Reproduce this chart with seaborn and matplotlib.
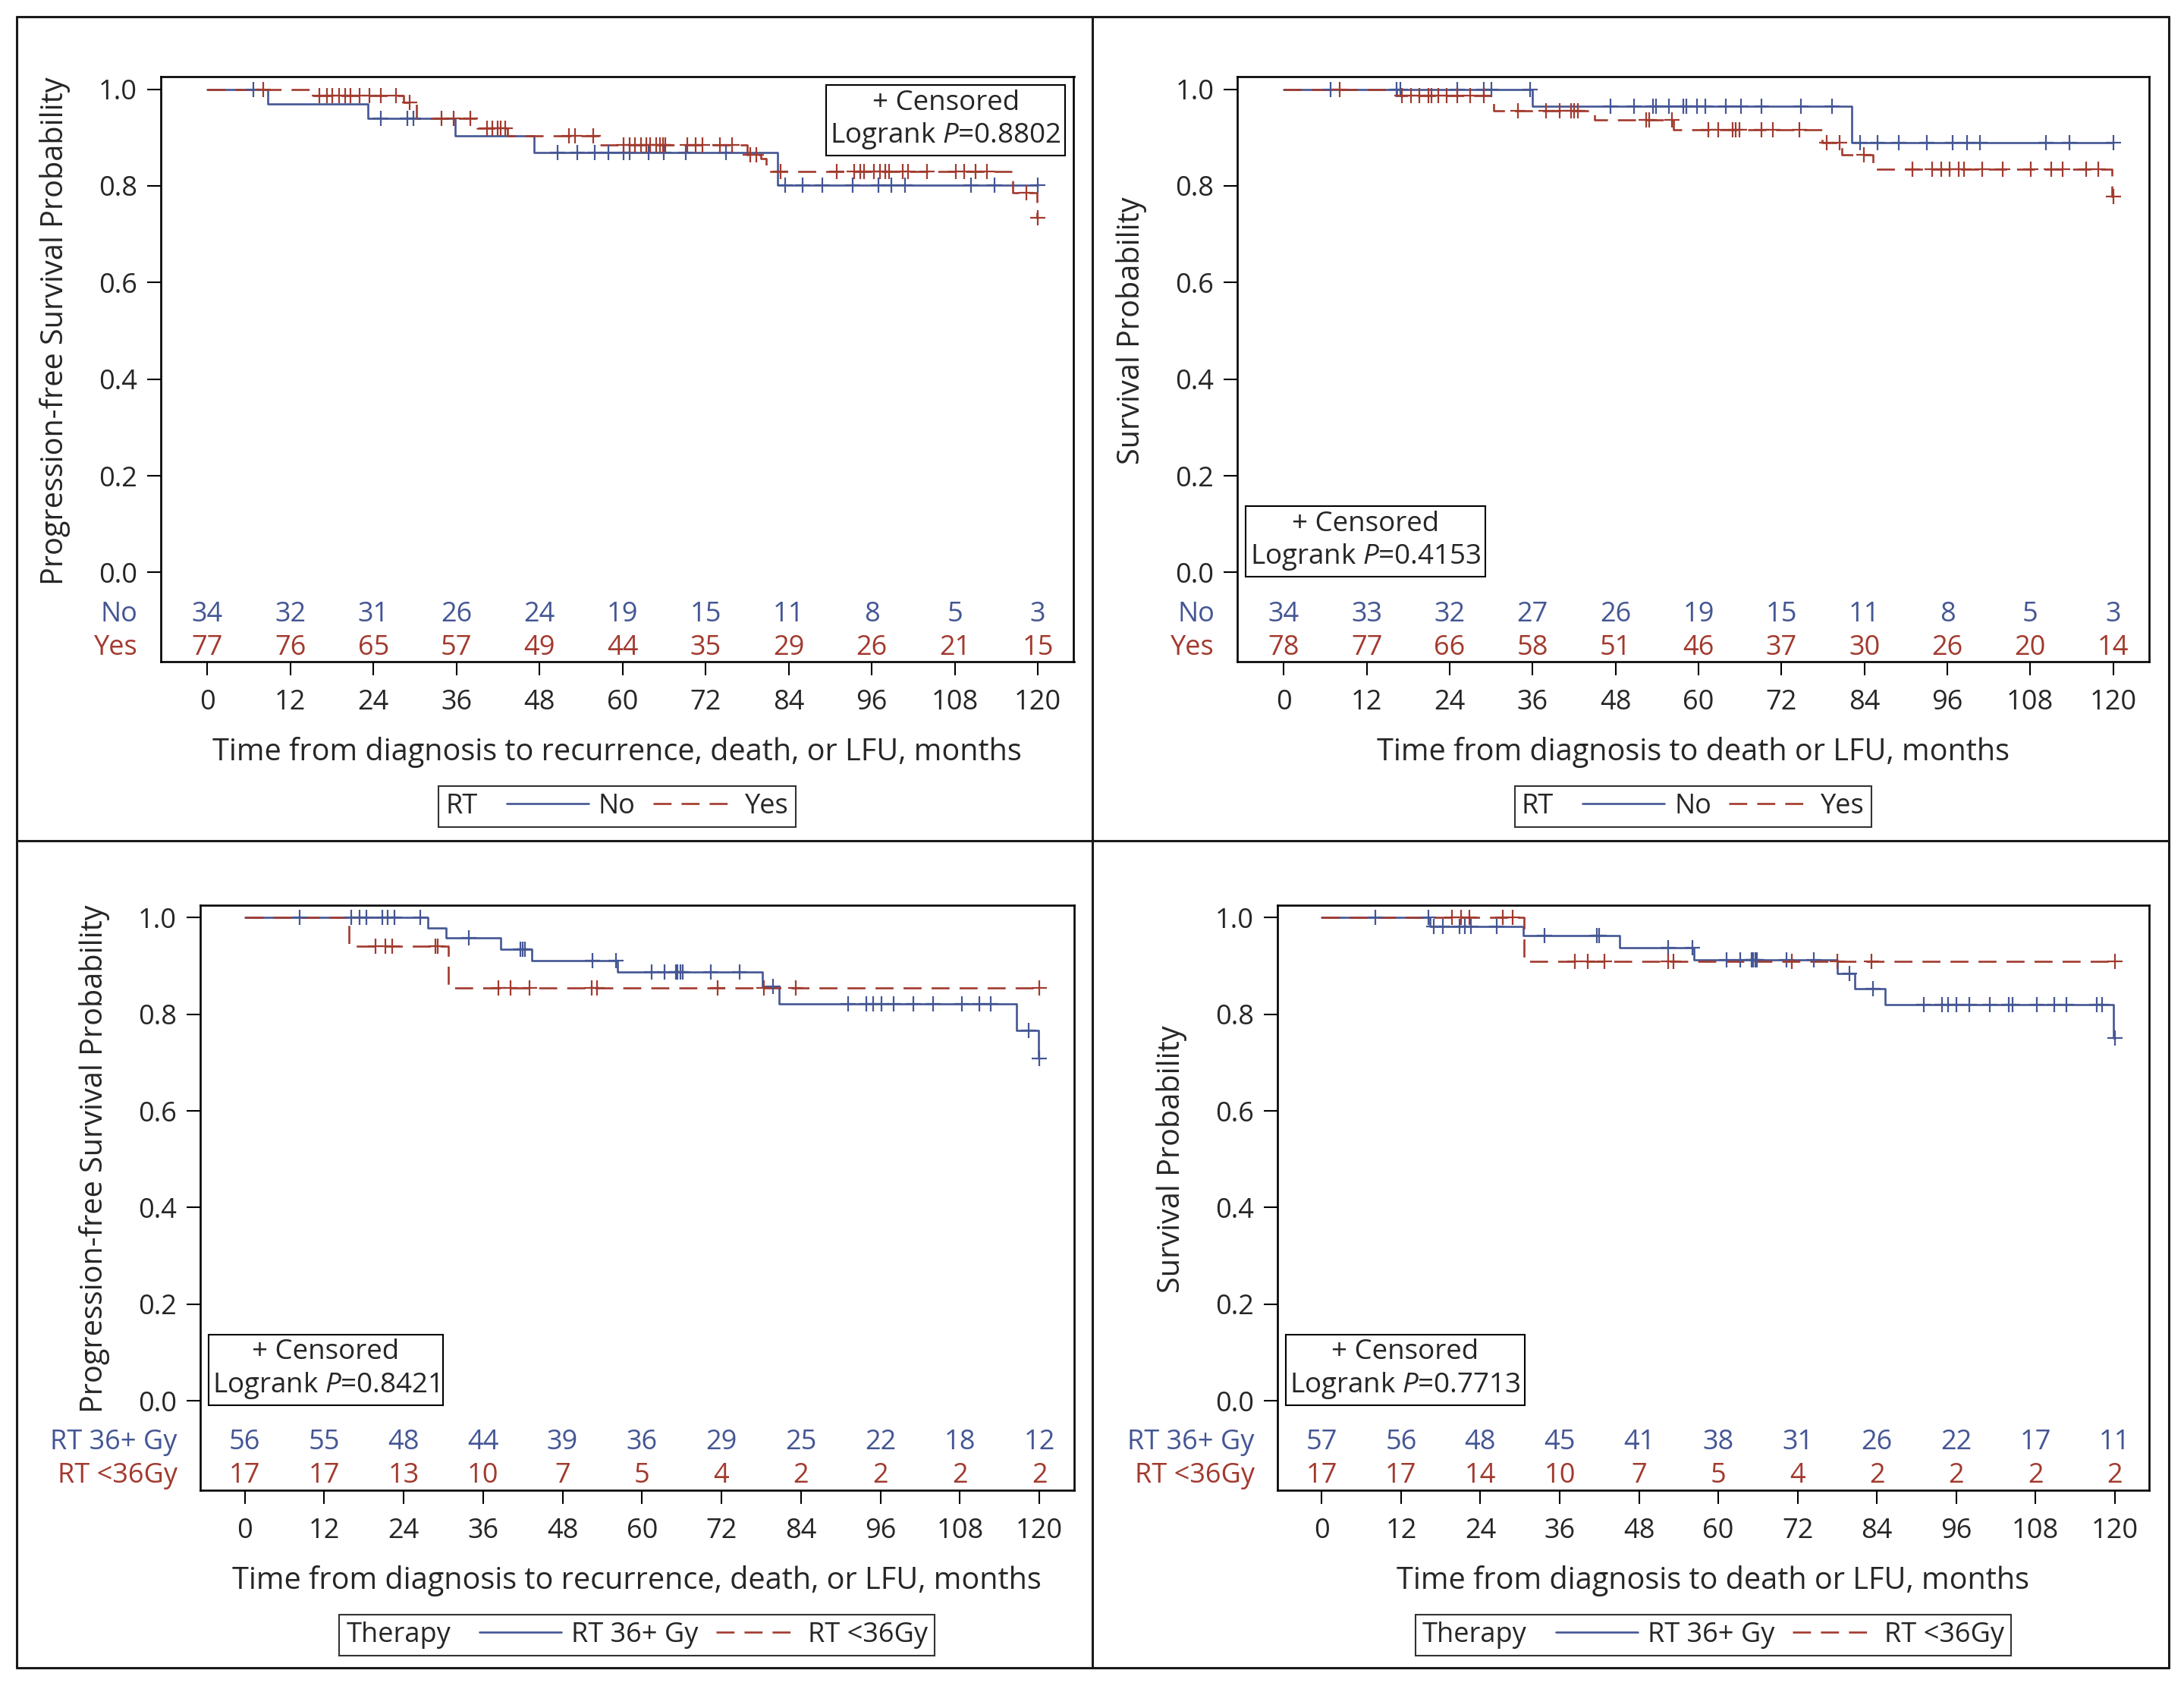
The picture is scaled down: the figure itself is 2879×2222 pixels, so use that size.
import numpy as np
import pandas as pd
import matplotlib
matplotlib.use("Agg")
import matplotlib.pyplot as plt
import matplotlib.transforms as mtransforms
from matplotlib.lines import Line2D
from matplotlib.offsetbox import AnchoredText, HPacker
import seaborn as sns

# ====== data ======
months = [0, 12, 24, 36, 48, 60, 72, 84, 96, 108, 120]

# top left: progression-free survival by RT (No / Yes)
pfs_no_t = [0, 8.75, 23.2, 35.8, 47.2, 82.4, 120.0]
pfs_no_s = [1.0, 0.969, 0.939, 0.903, 0.869, 0.802, 0.802]
pfs_no_cens = [6.7, 25.1, 28.9, 29.8, 50.6, 53.5, 56.0, 58.0, 60.1, 61.0, 63.8, 66.0,
               69.1, 74.9, 83.5, 86.0, 88.9, 93.2, 97.0, 98.8, 100.8, 110.4, 113.8, 120.0]
pfs_yes_t = [0, 15.3, 28.4, 30.2, 39.0, 43.4, 56.6, 78.0, 80.0, 80.8, 116.4, 119.9, 120.0]
pfs_yes_s = [1.0, 0.986, 0.972, 0.939, 0.920, 0.903, 0.884, 0.864, 0.856, 0.830, 0.786, 0.734, 0.734]
pfs_yes_cens = [8.1, 16.2, 17.3, 18.1, 19.0, 19.9, 20.7, 22.0, 23.4, 25.1, 27.3, 29.2,
                33.8, 35.6, 38.0, 40.4, 41.2, 41.9, 42.4, 43.0, 52.2, 53.1, 55.8,
                60.1, 61.0, 61.8, 62.7, 63.4, 64.0, 64.9, 65.4, 65.8, 66.2, 69.3, 70.6,
                71.6, 74.1, 75.8, 78.5, 79.3, 82.8, 91.0, 93.5, 94.3, 94.9, 96.3, 97.2,
                98.0, 98.5, 100.5, 101.2, 104.0, 108.2, 109.4, 111.0, 112.7, 118.4, 120.0]
pfs_rt_no_risk = [34, 32, 31, 26, 24, 19, 15, 11, 8, 5, 3]
pfs_rt_yes_risk = [77, 76, 65, 57, 49, 44, 35, 29, 26, 21, 15]

# top right: overall survival by RT (No / Yes)
os_no_t = [0, 35.9, 82.2, 120.0]
os_no_s = [1.0, 0.964, 0.890, 0.890]
os_no_cens = [6.7, 16.3, 16.8, 25.1, 28.9, 30.0, 35.6, 47.3, 50.7, 53.4, 53.8, 55.7, 57.8,
              58.2, 59.8, 61.0, 64.0, 66.1, 69.1, 74.8, 79.3, 83.4, 85.9, 89.0, 93.0,
              96.8, 98.8, 100.7, 110.3, 113.7, 120.0]
os_yes_t = [0, 16.3, 30.4, 45.0, 56.4, 77.9, 80.7, 85.2, 119.8, 120.0]
os_yes_s = [1.0, 0.987, 0.955, 0.936, 0.916, 0.890, 0.864, 0.834, 0.778, 0.778]
os_yes_cens = [8.1, 17.1, 18.4, 19.6, 20.9, 21.3, 22.3, 23.6, 25.1, 27.0, 28.9, 33.9,
               37.9, 39.9, 41.6, 42.0, 42.5, 52.4, 52.9, 56.1, 61.4, 62.8, 64.9, 65.4,
               65.9, 69.1, 70.8, 74.6, 78.5, 80.4, 83.9, 90.9, 93.8, 95.1, 96.3, 97.7,
               98.4, 101.1, 104.0, 108.1, 111.0, 112.7, 116.1, 117.8, 120.0]
os_rt_no_risk = [34, 33, 32, 27, 26, 19, 15, 11, 8, 5, 3]
os_rt_yes_risk = [78, 77, 66, 58, 51, 46, 37, 30, 26, 20, 14]

# bottom left: progression-free survival by dose
pfs_hi_t = [0, 27.7, 30.4, 38.7, 43.4, 56.3, 78.2, 80.7, 116.5, 119.9, 120.0]
pfs_hi_s = [1.0, 0.979, 0.958, 0.935, 0.911, 0.888, 0.857, 0.822, 0.767, 0.708, 0.708]
pfs_hi_cens = [8.3, 16.1, 17.3, 18.4, 20.8, 21.6, 22.6, 26.5, 33.9, 41.6, 42.0, 42.3,
               52.5, 56.1, 61.5, 63.4, 65.1, 65.4, 65.8, 66.1, 70.4, 74.7, 79.8, 91.1,
               93.9, 94.9, 96.2, 98.0, 101.0, 103.9, 108.3, 110.9, 112.7, 118.4, 120.0]
pfs_lo_t = [0, 15.8, 30.7, 120.0]
pfs_lo_s = [1.0, 0.941, 0.855, 0.855]
pfs_lo_cens = [19.8, 21.2, 22.3, 28.8, 29.2, 38.3, 40.2, 43.0, 52.4, 53.2, 71.4, 78.4,
               83.2, 120.0]
pfs_hi_risk = [56, 55, 48, 44, 39, 36, 29, 25, 22, 18, 12]
pfs_lo_risk = [17, 17, 13, 10, 7, 5, 4, 2, 2, 2, 2]

# bottom right: overall survival by dose
os_hi_t = [0, 16.4, 30.5, 45.1, 56.3, 78.0, 80.7, 85.3, 119.8, 120.0]
os_hi_s = [1.0, 0.982, 0.962, 0.938, 0.913, 0.884, 0.853, 0.820, 0.750, 0.750]
os_hi_cens = [8.1, 16.1, 17.0, 18.3, 20.8, 21.6, 22.6, 26.5, 33.7, 41.6, 42.0, 52.4,
              56.1, 61.3, 63.3, 65.0, 65.3, 65.6, 65.9, 70.3, 74.5, 79.8, 83.4, 91.1,
              93.9, 94.8, 96.0, 98.0, 101.1, 104.0, 104.5, 108.2, 110.9, 112.7, 117.3,
              118.1, 120.0]
os_lo_t = [0, 30.6, 120.0]
os_lo_s = [1.0, 0.909, 0.909]
os_lo_cens = [19.7, 21.1, 22.3, 27.4, 28.9, 38.3, 40.2, 42.8, 52.4, 53.2, 71.1, 78.0,
              83.2, 120.0]
os_hi_risk = [57, 56, 48, 45, 41, 38, 31, 26, 22, 17, 11]
os_lo_risk = [17, 17, 14, 10, 7, 5, 4, 2, 2, 2, 2]

# ====== style ======
sns.set_style("white")
plt.rcParams["font.family"] = ["Open Sans", "DejaVu Sans"]
plt.rcParams["mathtext.fontset"] = "custom"
plt.rcParams["mathtext.rm"] = "Open Sans"
plt.rcParams["mathtext.it"] = "Open Sans:italic"

BLUE = "#445694"
RED = "#A23A2E"
FS = 26          # ticks, at-risk table, legend
FS_LAB = 28.5    # axis labels
FS_BOX = 26.5
LW = 1.9
DASH = (0, (9, 5))
W, H = 2879, 2222

fig = plt.figure(figsize=(W / 100, H / 100), dpi=100)


def km_panel(ax, curves, risks, names, ylabel, xlabel, pval, box_low, title):
    for (t, s, c), color, ls in zip(curves, [BLUE, RED], ["-", DASH]):
        step = pd.DataFrame({"t": t, "s": s})
        sns.lineplot(data=step, x="t", y="s", ax=ax, color=color, linewidth=LW,
                     linestyle=ls, drawstyle="steps-post", estimator=None, sort=False)
        cs = np.asarray(s)[np.searchsorted(t, c, side="right") - 1]
        sns.scatterplot(x=c, y=cs, ax=ax, marker="+", s=200, linewidth=1.6,
                        color=color, zorder=3)

    ax.set_xlim(-6.75, 125.2)
    ax.set_ylim(-0.185, 1.026)
    ax.set_xticks(months)
    ax.set_yticks(np.arange(0, 1.01, 0.2))
    ax.set_yticklabels([f"{v:.1f}" for v in np.arange(0, 1.01, 0.2)])
    ax.tick_params(axis="both", direction="out", length=13, width=1.5,
                   labelsize=FS, color="black", left=True, bottom=True)
    ax.tick_params(axis="x", pad=13)
    ax.tick_params(axis="y", pad=9)
    for sp in ax.spines.values():
        sp.set_color("black")
        sp.set_linewidth(1.9)
    ax.set_xlabel(xlabel, fontsize=FS_LAB, labelpad=19)
    ax.set_ylabel(ylabel, fontsize=FS_LAB, labelpad=27, y=0.566)

    # number at risk table inside the frame
    row_tr = mtransforms.offset_copy(ax.get_yaxis_transform(), x=-30, units="dots")
    for counts, name, color, yb in zip(risks, names, [BLUE, RED], [-0.101, -0.170]):
        for m, n in zip(months, counts):
            ax.text(m, yb, str(n), ha="center", va="baseline", color=color, fontsize=FS)
        ax.text(0, yb, name, transform=row_tr, ha="right", va="baseline",
                color=color, fontsize=FS)

    txt = "+ Censored\nLogrank $P$=" + pval
    if box_low:
        at = AnchoredText(txt, loc="lower left", pad=0.15, borderpad=0.3,
                          prop=dict(size=FS_BOX, ha="center"),
                          bbox_to_anchor=(0, -0.026),
                          bbox_transform=ax.get_yaxis_transform())
    else:
        at = AnchoredText(txt, loc="upper right", pad=0.15, borderpad=0.3,
                          prop=dict(size=FS_BOX, ha="center"))
    at.patch.set_boxstyle("square,pad=0")
    at.patch.set_linewidth(1.5)
    at.patch.set_edgecolor("black")
    ax.add_artist(at)

    handles = [Line2D([], [], color=BLUE, lw=LW),
               Line2D([], [], color=RED, lw=LW, linestyle=DASH)]
    leg = ax.legend(handles, names, title=title, ncol=2, loc="upper center",
                    bbox_to_anchor=(0.5, -0.212), frameon=True, fancybox=False,
                    edgecolor="black", handlelength=3.0, handletextpad=0.35,
                    columnspacing=0.65, borderpad=0.25, borderaxespad=0,
                    fontsize=FS, title_fontsize=FS)
    leg.get_frame().set_linewidth(1.5)
    # title on the same row as the entries, like the SAS legend
    old = leg._legend_box
    row = HPacker(pad=old.pad, sep=FS * 1.05, align="center",
                  children=old.get_children())
    row.set_figure(fig)
    row.axes = ax
    row.set_offset(leg._findoffset)
    leg._legend_box = row


pos = {
    "tl": [211.7, 101.0, 1415.5, 872.3],
    "tr": [1631.0, 101.0, 2833.0, 872.3],
    "bl": [263.6, 1192.7, 1415.5, 1964.0],
    "br": [1683.6, 1192.7, 2833.0, 1964.0],
}
axes = {}
for key, (x0, y0, x1, y1) in pos.items():
    axes[key] = fig.add_axes([x0 / W, 1 - y1 / H, (x1 - x0) / W, (y1 - y0) / H])

PFS_Y = "Progression-free Survival Probability"
OS_Y = "Survival Probability"
PFS_X = "Time from diagnosis to recurrence, death, or LFU, months"
OS_X = "Time from diagnosis to death or LFU, months"

km_panel(axes["tl"], [(pfs_no_t, pfs_no_s, pfs_no_cens), (pfs_yes_t, pfs_yes_s, pfs_yes_cens)],
         [pfs_rt_no_risk, pfs_rt_yes_risk], ["No", "Yes"], PFS_Y, PFS_X, "0.8802", False, "RT")
km_panel(axes["tr"], [(os_no_t, os_no_s, os_no_cens), (os_yes_t, os_yes_s, os_yes_cens)],
         [os_rt_no_risk, os_rt_yes_risk], ["No", "Yes"], OS_Y, OS_X, "0.4153", True, "RT")
km_panel(axes["bl"], [(pfs_hi_t, pfs_hi_s, pfs_hi_cens), (pfs_lo_t, pfs_lo_s, pfs_lo_cens)],
         [pfs_hi_risk, pfs_lo_risk], ["RT 36+ Gy", "RT <36Gy"], PFS_Y, PFS_X, "0.8421", True,
         "Therapy")
km_panel(axes["br"], [(os_hi_t, os_hi_s, os_hi_cens), (os_lo_t, os_lo_s, os_lo_cens)],
         [os_hi_risk, os_lo_risk], ["RT 36+ Gy", "RT <36Gy"], OS_Y, OS_X, "0.7713", True,
         "Therapy")

# panel grid lines
def fline(xs, ys):
    fig.add_artist(Line2D([x / W for x in xs], [1 - y / H for y in ys],
                          transform=fig.transFigure, color="#1a1a1a", lw=2.2))

for y in [22, 1108, 2198]:
    fline([22, 2859], [y, y])
for x in [22, 1440, 2859]:
    fline([x, x], [22, 2198])

fig.savefig("out.png", dpi=100, facecolor="white")
